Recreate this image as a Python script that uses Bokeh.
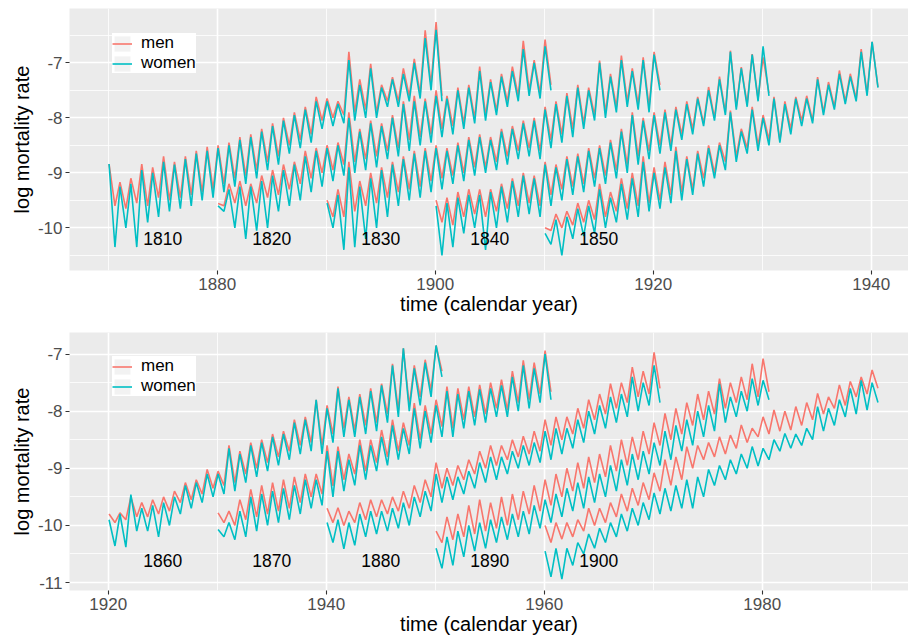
import math
from bokeh.plotting import figure
from bokeh.layouts import column
from bokeh.models import Range1d, FixedTicker, Legend, LegendItem, PrintfTickFormatter
from bokeh.core.properties import value
from bokeh.embed import file_html
from bokeh.resources import INLINE

MEN = "#F8766D"
WOMEN = "#00BFC4"
FONT = "Liberation Sans"

# ---------------- data ----------------
cohorts_top = [1810, 1820, 1830, 1840, 1850]
cohorts_bottom = [1860, 1870, 1880, 1890, 1900]
AGE_START = 60          # observations start at age 60
LABEL_AGE = 65          # cohort label placed at age 65
PEAK_T = 0.08           # position of winter peak within the year
TROUGH_T = 0.62         # position of summer trough within the year
x_ticks_top = [1880, 1900, 1920, 1940]
x_minor_top = [1870, 1890, 1910, 1930]
x_ticks_bottom = [1920, 1940, 1960, 1980]
x_minor_bottom = [1930, 1950, 1970, 1990]
y_ticks_top = [-10, -9, -8, -7]
y_minor_top = [-10.5, -9.5, -8.5, -7.5, -6.5]
y_ticks_bottom = [-11, -10, -9, -8, -7]
y_minor_bottom = [-10.5, -9.5, -8.5, -7.5, -6.5]

# winter peak (pk) and summer trough (tr) of log mortality, one value per calendar year (ages 60..90)
m1810_pk = [-8.84, -9.17, -9.10, -8.84, -8.90, -8.70, -8.80, -8.70, -8.60, -8.53, -8.50, -8.45, -8.35, -8.30, -8.20, -8.10, -8.00, -7.90, -7.80, -7.62, -7.65, -7.70, -6.80, -7.30, -7.02, -7.40, -7.26, -7.10, -6.93, -6.41, -6.26]
m1810_tr = [-9.60, -9.65, -9.55, -9.60, -9.45, -9.50, -9.45, -9.40, -9.35, -9.30, -9.20, -9.10, -9.05, -8.95, -8.80, -8.70, -8.50, -8.40, -8.30, -8.05, -8.00, -7.95, -7.90, -7.85, -7.90, -7.70, -7.70, -7.60, -7.56, -7.40, -7.60]
w1810_pk = [-8.84, -9.25, -9.20, -8.95, -9.00, -8.80, -8.85, -8.75, -8.65, -8.60, -8.55, -8.50, -8.40, -8.35, -8.25, -8.15, -8.05, -7.95, -7.85, -7.70, -7.70, -7.75, -6.95, -7.40, -7.10, -7.45, -7.30, -7.20, -7.00, -6.55, -6.40]
w1810_tr = [-10.35, -10.00, -10.35, -9.90, -9.80, -9.70, -9.65, -9.60, -9.50, -9.45, -9.35, -9.25, -9.20, -9.10, -8.95, -8.85, -8.65, -8.55, -8.45, -8.20, -8.15, -8.10, -8.05, -8.00, -8.00, -7.80, -7.80, -7.70, -7.65, -7.50, -7.70]

m1820_pk = [-9.56, -9.20, -9.15, -9.20, -9.05, -8.95, -8.85, -8.80, -8.60, -8.55, -8.50, -8.45, -7.90, -8.20, -8.05, -8.10, -7.95, -7.70, -7.60, -7.65, -7.50, -7.60, -7.45, -7.40, -7.07, -7.30, -7.20, -7.07, -6.60, -6.95, -6.58]
m1820_tr = [-9.60, -9.55, -9.60, -9.55, -9.45, -9.40, -9.30, -9.20, -9.10, -9.00, -8.95, -8.85, -8.80, -8.75, -8.70, -8.60, -8.55, -8.40, -8.35, -8.30, -8.20, -8.15, -8.10, -8.00, -7.95, -7.87, -7.70, -7.60, -7.50, -7.55, -7.40]
w1820_pk = [-9.60, -9.30, -9.25, -9.25, -9.15, -9.05, -8.95, -8.85, -8.70, -8.60, -8.55, -8.50, -8.00, -8.25, -8.10, -8.15, -8.00, -7.75, -7.70, -7.70, -7.60, -7.65, -7.50, -7.45, -7.15, -7.35, -7.25, -7.15, -6.75, -7.00, -6.70]
w1820_tr = [-9.70, -10.00, -10.20, -10.05, -10.00, -9.70, -9.60, -9.50, -9.35, -9.25, -9.15, -9.05, -9.00, -8.95, -8.90, -8.75, -8.70, -8.60, -8.50, -8.45, -8.35, -8.30, -8.20, -8.10, -8.05, -7.95, -7.80, -7.70, -7.60, -7.65, -7.50]

m1830_pk = [-9.50, -9.30, -8.80, -9.15, -9.00, -8.90, -8.80, -8.70, -8.60, -8.55, -8.50, -8.55, -8.45, -8.35, -8.30, -8.35, -8.20, -8.15, -8.05, -8.00, -7.80, -7.70, -7.55, -7.40, -7.45, -6.96, -7.20, -6.87, -7.10, -6.90, -6.80]
m1830_tr = [-9.80, -9.80, -9.70, -9.60, -9.55, -9.45, -9.35, -9.30, -9.25, -9.15, -9.10, -9.05, -9.00, -8.90, -8.90, -8.80, -8.70, -8.60, -8.55, -8.60, -8.40, -8.30, -8.20, -8.10, -7.95, -7.90, -7.80, -7.70, -7.75, -7.80, -7.40]
w1830_pk = [-9.55, -9.40, -8.90, -9.25, -9.10, -8.95, -8.85, -8.75, -8.65, -8.60, -8.55, -8.60, -8.50, -8.40, -8.35, -8.40, -8.25, -8.20, -8.10, -8.05, -7.85, -7.75, -7.60, -7.45, -7.50, -7.00, -7.25, -6.95, -7.15, -6.95, -6.85]
w1830_tr = [-10.00, -10.40, -10.35, -10.20, -10.00, -9.80, -9.60, -9.50, -9.45, -9.35, -9.30, -9.20, -9.15, -9.05, -9.00, -8.95, -8.85, -8.75, -8.70, -8.75, -8.55, -8.45, -8.35, -8.20, -8.05, -8.00, -7.90, -7.80, -7.85, -7.90, -7.50]

m1840_pk = [-9.50, -9.45, -9.35, -9.30, -9.30, -9.30, -9.20, -9.10, -9.00, -9.05, -8.80, -8.85, -8.70, -8.65, -8.55, -8.50, -8.40, -8.20, -7.90, -8.00, -7.90, -7.85, -7.80, -7.70, -7.62, -7.44, -7.25, -6.78, -7.08, -6.84, -6.90]
m1840_tr = [-9.90, -9.95, -9.80, -9.75, -9.80, -9.70, -9.65, -9.60, -9.55, -9.60, -9.40, -9.30, -9.25, -9.20, -9.10, -9.05, -8.95, -8.85, -8.70, -8.60, -8.50, -8.50, -8.30, -8.20, -8.10, -8.00, -7.90, -7.80, -7.75, -7.65, -7.55]
w1840_pk = [-9.60, -9.55, -9.45, -9.40, -9.40, -9.35, -9.25, -9.15, -9.05, -9.10, -8.85, -8.90, -8.75, -8.70, -8.60, -8.55, -8.45, -8.25, -7.95, -8.05, -7.95, -7.90, -7.85, -7.75, -7.65, -7.50, -7.30, -6.80, -7.10, -6.85, -6.70]
w1840_tr = [-10.50, -10.35, -10.10, -10.00, -10.40, -10.00, -9.90, -9.80, -9.75, -9.80, -9.60, -9.50, -9.40, -9.35, -9.25, -9.20, -9.10, -9.00, -8.85, -8.75, -8.65, -8.60, -8.40, -8.30, -8.15, -8.05, -7.95, -7.85, -7.80, -7.70, -7.60]

m1850_pk = [-10.00, -9.75, -9.70, -9.55, -9.50, -9.20, -9.35, -9.10, -9.00, -8.70, -8.90, -8.80, -8.53, -8.70, -8.60, -8.50, -8.45, -7.87, -8.20, -7.80, -7.95, -7.62, -7.70, -7.62, -7.60, -7.26, -7.35, -7.14, -7.20, -6.75, -6.62]
m1850_tr = [-10.05, -10.00, -9.95, -9.90, -9.85, -9.80, -9.70, -9.65, -9.60, -9.55, -9.50, -9.40, -9.35, -9.30, -9.10, -9.00, -8.80, -8.70, -8.55, -8.50, -8.40, -8.41, -8.20, -8.05, -8.05, -7.90, -7.80, -7.70, -7.65, -7.56, -7.44]
w1850_pk = [-10.10, -9.85, -9.80, -9.65, -9.60, -9.30, -9.45, -9.20, -9.10, -8.80, -9.00, -8.90, -8.60, -8.75, -8.65, -8.55, -8.50, -7.90, -8.25, -7.85, -8.00, -7.65, -7.75, -7.65, -7.65, -7.30, -7.40, -7.20, -7.25, -6.80, -6.62]
w1850_tr = [-10.30, -10.50, -10.20, -10.15, -10.10, -10.00, -9.90, -9.85, -9.80, -9.70, -9.65, -9.55, -9.50, -9.40, -9.25, -9.10, -8.95, -8.80, -8.65, -8.60, -8.50, -8.45, -8.30, -8.15, -8.10, -7.95, -7.85, -7.75, -7.70, -7.60, -7.45]

m1860_pk = [-9.80, -9.78, -9.50, -9.60, -9.55, -9.50, -9.40, -9.25, -9.20, -9.02, -9.05, -8.60, -8.70, -8.55, -8.50, -8.40, -8.35, -8.15, -8.10, -7.80, -7.90, -7.57, -7.75, -7.70, -7.60, -7.52, -7.17, -6.90, -7.20, -7.10, -6.85]
m1860_tr = [-9.95, -9.90, -9.85, -9.85, -9.80, -9.75, -9.60, -9.55, -9.45, -9.35, -9.30, -9.25, -9.10, -9.00, -8.90, -8.80, -8.70, -8.60, -8.55, -8.60, -8.40, -8.30, -8.33, -8.25, -8.20, -8.05, -7.98, -7.90, -7.75, -7.63, -7.30]
w1860_pk = [-9.90, -9.80, -9.46, -9.70, -9.65, -9.60, -9.50, -9.30, -9.25, -9.10, -9.10, -8.65, -8.75, -8.60, -8.55, -8.45, -8.40, -8.20, -8.15, -7.80, -7.95, -7.60, -7.80, -7.75, -7.65, -7.55, -7.20, -6.90, -7.25, -7.15, -6.85]
w1860_tr = [-10.36, -10.38, -10.10, -10.10, -10.20, -10.00, -9.80, -9.70, -9.60, -9.50, -9.45, -9.40, -9.25, -9.15, -9.05, -8.95, -8.85, -8.75, -8.70, -8.75, -8.55, -8.45, -8.45, -8.40, -8.35, -8.20, -8.10, -8.00, -7.90, -7.75, -7.40]

m1870_pk = [-9.78, -9.75, -9.55, -9.37, -9.30, -9.25, -9.20, -9.15, -9.10, -9.10, -8.60, -8.62, -8.75, -8.50, -8.50, -8.33, -8.15, -8.20, -7.86, -7.90, -7.80, -7.57, -7.60, -7.57, -7.54, -7.50, -7.45, -7.30, -7.11, -7.15, -6.94]
m1870_tr = [-9.95, -10.00, -9.90, -9.85, -9.80, -9.75, -9.70, -9.60, -9.50, -9.45, -9.31, -9.20, -9.10, -9.05, -8.90, -8.80, -8.70, -8.60, -8.50, -8.40, -8.27, -8.30, -8.15, -8.10, -8.05, -7.95, -7.98, -7.85, -7.80, -7.70, -7.66]
w1870_pk = [-10.07, -9.95, -9.75, -9.50, -9.45, -9.40, -9.35, -9.30, -9.20, -9.20, -8.70, -8.70, -8.85, -8.60, -8.60, -8.45, -8.25, -8.30, -7.95, -8.00, -7.90, -7.65, -7.70, -7.65, -7.62, -7.60, -7.55, -7.40, -7.20, -7.25, -7.00]
w1870_tr = [-10.20, -10.25, -10.20, -10.10, -10.00, -9.95, -9.90, -9.80, -9.70, -9.65, -9.50, -9.40, -9.30, -9.20, -9.05, -8.95, -8.85, -8.75, -8.65, -8.55, -8.45, -8.45, -8.30, -8.25, -8.20, -8.10, -8.10, -8.00, -7.95, -7.85, -7.80]

m1880_pk = [-9.70, -9.69, -9.75, -9.60, -9.55, -9.55, -9.50, -9.40, -9.30, -9.20, -8.90, -9.00, -8.95, -8.85, -8.70, -8.60, -8.60, -8.50, -8.44, -8.35, -8.15, -8.10, -8.10, -7.95, -7.80, -7.70, -7.52, -7.50, -7.23, -7.30, -6.97]
m1880_tr = [-9.95, -10.00, -9.95, -9.90, -9.85, -9.80, -9.75, -9.70, -9.60, -9.50, -9.35, -9.30, -9.20, -9.10, -9.00, -8.95, -8.85, -8.80, -8.75, -8.70, -8.60, -8.50, -8.40, -8.30, -8.15, -8.05, -7.95, -7.85, -7.75, -7.70, -7.60]
w1880_pk = [-9.95, -9.90, -9.95, -9.80, -9.75, -9.75, -9.70, -9.60, -9.50, -9.40, -9.10, -9.15, -9.15, -9.05, -8.90, -8.80, -8.80, -8.70, -8.60, -8.55, -8.35, -8.30, -8.30, -8.15, -8.00, -7.90, -7.75, -7.70, -7.40, -7.50, -7.20]
w1880_tr = [-10.30, -10.41, -10.35, -10.20, -10.15, -10.10, -10.05, -10.00, -9.85, -9.75, -9.60, -9.55, -9.45, -9.35, -9.25, -9.20, -9.10, -9.00, -8.95, -8.90, -8.85, -8.75, -8.65, -8.55, -8.40, -8.30, -8.20, -8.10, -8.00, -7.90, -7.85]

m1890_pk = [-10.10, -9.85, -9.80, -9.65, -9.55, -9.60, -9.50, -9.45, -9.40, -9.30, -9.20, -9.10, -9.00, -8.90, -8.80, -8.75, -8.60, -8.50, -8.45, -8.35, -8.20, -8.04, -7.95, -7.85, -7.70, -7.65, -7.43, -7.50, -7.40, -7.17, -7.08]
m1890_tr = [-10.30, -10.25, -10.20, -10.15, -10.10, -10.05, -10.00, -9.90, -9.80, -9.75, -9.65, -9.50, -9.40, -9.35, -9.25, -9.15, -9.05, -8.95, -8.85, -8.75, -8.60, -8.50, -8.40, -8.25, -8.15, -8.05, -7.95, -7.85, -7.80, -7.75, -7.66]
w1890_pk = [-10.40, -10.20, -10.10, -10.00, -9.95, -9.90, -9.85, -9.80, -9.75, -9.65, -9.55, -9.45, -9.35, -9.25, -9.15, -9.10, -8.95, -8.85, -8.75, -8.70, -8.55, -8.35, -8.25, -8.15, -8.00, -7.90, -7.52, -7.75, -7.65, -7.43, -7.46]
w1890_tr = [-10.75, -10.70, -10.55, -10.45, -10.40, -10.30, -10.25, -10.20, -10.15, -10.05, -9.95, -9.85, -9.75, -9.70, -9.60, -9.50, -9.40, -9.30, -9.20, -9.10, -8.95, -8.85, -8.70, -8.60, -8.45, -8.35, -8.20, -8.10, -8.00, -7.90, -7.80]

m1900_pk = [-10.00, -9.95, -9.95, -9.90, -9.70, -9.70, -9.60, -9.45, -9.35, -9.25, -9.08, -8.85, -8.80, -8.62, -8.60, -8.55, -8.45, -8.42, -8.24, -8.30, -8.10, -7.98, -8.00, -7.92, -7.85, -7.69, -7.75, -7.54, -7.48, -7.40, -7.28]
m1900_tr = [-10.30, -10.24, -10.20, -10.10, -10.00, -9.95, -9.85, -9.75, -9.65, -9.55, -9.40, -9.30, -9.20, -9.00, -8.85, -8.80, -8.75, -8.65, -8.55, -8.45, -8.40, -8.35, -8.33, -8.25, -8.15, -8.05, -7.95, -7.90, -7.75, -7.70, -7.60]
w1900_pk = [-10.45, -10.40, -10.40, -10.30, -10.15, -10.05, -9.95, -9.80, -9.70, -9.60, -9.43, -9.35, -9.30, -9.20, -9.15, -9.02, -8.95, -8.85, -8.75, -8.62, -8.65, -8.50, -8.39, -8.40, -8.30, -7.92, -7.95, -7.80, -7.60, -7.46, -7.50]
w1900_tr = [-10.90, -10.94, -10.70, -10.50, -10.40, -10.30, -10.20, -10.10, -10.00, -9.90, -9.80, -9.75, -9.70, -9.70, -9.50, -9.30, -9.20, -9.10, -9.00, -8.96, -8.85, -8.70, -8.65, -8.60, -8.50, -8.35, -8.25, -8.10, -8.05, -7.98, -7.85]

men_data = {
    1810: (m1810_pk, m1810_tr), 1820: (m1820_pk, m1820_tr), 1830: (m1830_pk, m1830_tr),
    1840: (m1840_pk, m1840_tr), 1850: (m1850_pk, m1850_tr), 1860: (m1860_pk, m1860_tr),
    1870: (m1870_pk, m1870_tr), 1880: (m1880_pk, m1880_tr), 1890: (m1890_pk, m1890_tr),
    1900: (m1900_pk, m1900_tr),
}
women_data = {
    1810: (w1810_pk, w1810_tr), 1820: (w1820_pk, w1820_tr), 1830: (w1830_pk, w1830_tr),
    1840: (w1840_pk, w1840_tr), 1850: (w1850_pk, w1850_tr), 1860: (w1860_pk, w1860_tr),
    1870: (w1870_pk, w1870_tr), 1880: (w1880_pk, w1880_tr), 1890: (w1890_pk, w1890_tr),
    1900: (w1900_pk, w1900_tr),
}


def series(cohort, pk, tr):
    xs, ys = [], []
    for k in range(len(pk)):
        yr = cohort + AGE_START + k
        xs += [yr + PEAK_T, yr + TROUGH_T]
        ys += [pk[k], tr[k]]
    return xs, ys


def panel(cohorts, xr, yr, xt, xm, yt, ym, label_y, height, b_top, b_bottom, leg_offset):
    p = figure(width=908, height=height, output_backend="svg", toolbar_location=None,
               x_range=Range1d(*xr), y_range=Range1d(*yr),
               min_border_left=69, min_border_right=0,
               min_border_top=b_top, min_border_bottom=b_bottom,
               background_fill_color="#EBEBEB", border_fill_color="white",
               outline_line_color=None)
    p.xaxis.ticker = FixedTicker(ticks=xt, minor_ticks=xm)
    p.yaxis.ticker = FixedTicker(ticks=yt, minor_ticks=ym)
    p.yaxis.formatter = PrintfTickFormatter(format="%d")
    for g in (p.xgrid[0], p.ygrid[0]):
        g.grid_line_color = "white"
        g.grid_line_width = 1.6
        g.minor_grid_line_color = "white"
        g.minor_grid_line_width = 0.8
    for ax in (p.xaxis[0], p.yaxis[0]):
        ax.axis_line_color = None
        ax.major_tick_line_color = "#333333"
        ax.major_tick_line_width = 1.1
        ax.major_tick_out = 4
        ax.major_tick_in = 0
        ax.minor_tick_line_color = None
        ax.major_label_text_font = FONT
        ax.major_label_text_font_size = "17px"
        ax.major_label_text_color = "#4D4D4D"
        ax.axis_label_text_font = FONT
        ax.axis_label_text_font_size = "20px"
        ax.axis_label_text_font_style = "normal"
        ax.axis_label_text_color = "black"
    p.xaxis.axis_label = "time (calendar year)"
    p.yaxis.axis_label = "log mortality rate"
    p.xaxis.major_label_standoff = 3
    p.xaxis.axis_label_standoff = 0
    p.yaxis.major_label_standoff = 3
    p.yaxis.axis_label_standoff = 2

    first_m = first_w = None
    for c in cohorts:
        xs, ys = series(c, *men_data[c])
        r = p.line(xs, ys, line_color=MEN, line_width=1.6)
        first_m = first_m or r
    for c in cohorts:
        xs, ys = series(c, *women_data[c])
        r = p.line(xs, ys, line_color=WOMEN, line_width=1.6)
        first_w = first_w or r

    p.text(x=[c + LABEL_AGE for c in cohorts], y=[label_y] * len(cohorts),
           text=[str(c) for c in cohorts], text_font=value(FONT),
           text_font_size="17.5px", text_align="center", text_baseline="middle",
           text_color="black")

    key_bg = p.rect(x=[math.nan], y=[math.nan], width=1, height=1,
                    fill_color="#F2F2F2", line_color=None)
    leg = Legend(items=[LegendItem(label="men", renderers=[key_bg, first_m]),
                        LegendItem(label="women", renderers=[key_bg, first_w])],
                 location=leg_offset, border_line_color=None,
                 background_fill_color="white", background_fill_alpha=1.0,
                 label_text_font=FONT, label_text_font_size="17px",
                 label_text_color="black",
                 glyph_width=20, glyph_height=19, label_height=18,
                 label_standoff=9, padding=8, spacing=-2, margin=0)
    p.add_layout(leg)
    return p


p1 = panel(cohorts_top, (1866.45, 1943.42), (-10.776, -6.013),
           x_ticks_top, x_minor_top, y_ticks_top, y_minor_top,
           -10.2, 320, 8, 50, (43, 197))
p2 = panel(cohorts_bottom, (1916.45, 1993.42), (-11.139, -6.623),
           x_ticks_bottom, x_minor_bottom, y_ticks_bottom, y_minor_bottom,
           -10.62, 320, 12, 50, (43, 194))

layout = column(p1, p2, spacing=0)
open("out.html", "w").write(file_html(layout, INLINE))
